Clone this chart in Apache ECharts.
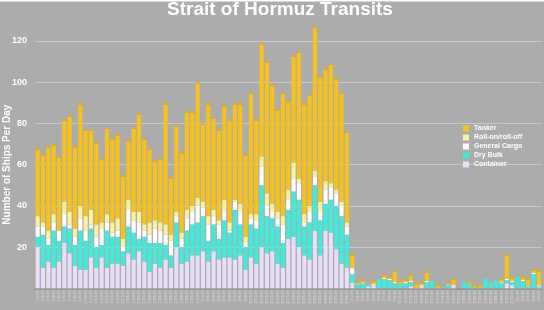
<!DOCTYPE html>
<html><head><meta charset="utf-8">
<script src="https://cdn.jsdelivr.net/npm/echarts@6/dist/echarts.min.js"></script>
<style>html,body{margin:0;padding:0;background:#acacac}#c{width:544px;height:310px}</style>
</head><body><div id="c"></div><script>
const categories = [
"1/1/26","1/2/26","1/3/26","1/4/26","1/5/26","1/6/26","1/7/26","1/8/26","1/9/26","1/10/26",
"1/11/26","1/12/26","1/13/26","1/14/26","1/15/26","1/16/26","1/17/26","1/18/26","1/19/26","1/20/26",
"1/21/26","1/22/26","1/23/26","1/24/26","1/25/26","1/26/26","1/27/26","1/28/26","1/29/26","1/30/26","1/31/26",
"2/1/26","2/2/26","2/3/26","2/4/26","2/5/26","2/6/26","2/7/26","2/8/26","2/9/26","2/10/26",
"2/11/26","2/12/26","2/13/26","2/14/26","2/15/26","2/16/26","2/17/26","2/18/26","2/19/26","2/20/26",
"2/21/26","2/22/26","2/23/26","2/24/26","2/25/26","2/26/26","2/27/26","2/28/26",
"3/1/26","3/2/26","3/3/26","3/4/26","3/5/26","3/6/26","3/7/26","3/8/26","3/9/26","3/10/26",
"3/11/26","3/12/26","3/13/26","3/14/26","3/15/26","3/16/26","3/17/26","3/18/26","3/19/26","3/20/26",
"3/21/26","3/22/26","3/23/26","3/24/26","3/25/26","3/26/26","3/27/26","3/28/26","3/29/26","3/30/26","3/31/26",
"4/1/26","4/2/26","4/3/26","4/4/26","4/5/26"];

const container = [20,10,13,10,13,22,17,11,9,9,15,10,15,10,12,12,11,17,14,18,13,8,12,10,14,10,20,12,13,16,16,18,13,18,14,15,15,14,16,9,15,12,20,17,18,12,10,24,25,20,16,14,28,16,28,27,19,12,10,2.7,
 0,0,1,1.5,0,0,0,0,0,0,1,0,1,0,0,0,0,0,1,0,0,0,0,0,0,0,0,0,2.4,1.5,0,0,0,0,0.5];
const dryBulk = [5,16,8,18,10,8,12,10,19,14,14,10,6,18,13,13,7,13,13,6,12,14,10,12,7,6,12,8,15,15,16,17,10,13,10,18,12,24,15,11,16,17,30,18,16,18,12,14,22,23,14,18,22,17,13,16,21,23,16,4.1,
 2,2.4,1,0,4.7,4.5,4,2.5,2,2.5,2,0,0,3,3.7,0,0.5,1.5,0,0,3.2,2,0.5,0,4.7,2.8,4,2.5,1.5,1.5,5.7,3.5,1,7,0.5];
const generalCargo = [5,4,3,4,5,6,2,4,6,5,2,5,8,4,2,3,2,8,6,8,3,4,7,6,5,7,3,4,6,6,8,4,8,4,7,4,1,4,6,2,3,4,9,5,3,4,9,5,6,8,2,5,4,4,7,6,6,5,4,2.9,
 0.3,0.4,0,0.5,0,0.5,0.5,0.5,0,0.5,0.5,0,0.5,0.5,0,0,0,0.3,0.5,0,0,0,0,0,0,0,0,0.4,0.7,0.5,0,0.5,0.2,0.5,0.5];
const roro = [5,2,4,4,0,6,6,4,6,7,7,6,3,4,5,6,4,5,4,5,3,6,4,4,5,3,2,3,4,3,4,3,4,3,2,6,4,1,4,3,2,3,5,6,4,3,4,5,8,2,4,3,3,5,4,2,2,2,2,0.3,
 0,0,0,0,0,0,0,0,0,0,0,0,0,0,0,0,0,0,0,0,0,0,0,0,0,0,0,0,0,0,0,0,0,0,0];
const tanker = [33,33,41,34,36,40,47,40,50,42,39,40,31,42,41,41,31,29,41,48,42,36,29,31,59,28,42,39,48,46,56,38,55,45,44,46,50,47,49,40,59,46,55,64,58,50,60,43,52,62,54,54,70,61,55,58,54,53,44,6.7,
 1.2,1.6,0,2,0,1.8,1.5,5.6,1.7,1.5,3.3,2.5,1.7,5,0,1.8,0,0.6,3.5,0,0,1.5,1.5,1.5,0,0,0,1.8,12,1.8,0,2,3.5,2,7.4];
const yTicks = [0,20,40,60,80,100,120];
const legendOrder = ['Tanker','Roll-on/roll-off','General Cargo','Dry Bulk','Container'];

const font = '"Liberation Sans", Arial, Helvetica, sans-serif';
const TANKER = '#F7C21A', TANKER_CAP = '#E8A91C';
const gridTop = 41, gridBottom = 21.7;
const pxPerUnit = (310 - gridTop - gridBottom) / (yTicks[yTicks.length-1] - yTicks[0]);
// tanker bars carry a thin darker cap at their top edge (about 1.8 px)
const tankerItems = tanker.map(v => {
  const h = v * pxPerUnit;
  if (h < 0.5) return v;
  const c = Math.min(0.6, 1.8 / h);
  return {value: v, itemStyle: {color: new echarts.graphic.LinearGradient(0,0,0,1,[
    {offset:0, color:TANKER_CAP},{offset:c, color:TANKER_CAP},{offset:c, color:TANKER},{offset:1, color:TANKER}])}};
});

const chart = echarts.init(document.getElementById('c'));
function s(name, data, color){
  return {name, type:'bar', stack:'total', data, barWidth:'76%', clip:false,
    itemStyle:{color}, emphasis:{disabled:true}};
}
chart.setOption({
  backgroundColor:'#acacac',
  animation:false,
  textStyle:{fontFamily:font},
  graphic:[{type:'rect', shape:{x:0,y:0,width:544,height:1.5}, style:{fill:'#ffffff'}, silent:true}],
  title:{text:'Strait of Hormuz Transits', left:167, top:0, padding:0,
    textStyle:{color:'#fff', fontSize:19, fontWeight:'bold', fontFamily:font}},
  legend:{orient:'vertical', left:463, top:125, padding:0, itemWidth:6, itemHeight:6, itemGap:2,
    icon:'rect', data:legendOrder, selectedMode:false,
    textStyle:{color:'#fff', fontSize:7, fontWeight:'bold', lineHeight:6.2, fontFamily:font}},
  grid:{left:35, right:2.5, top:gridTop, bottom:gridBottom, containLabel:false, outerBoundsMode:'none'},
  xAxis:{type:'category', data:categories,
    axisLine:{lineStyle:{color:'#9a9a9a', width:2}}, axisTick:{show:false},
    axisLabel:{interval:0, rotate:90, fontSize:4, color:'#dedede', margin:2, fontFamily:font}},
  yAxis:{type:'value', min:yTicks[0], max:yTicks[yTicks.length-1], interval:20,
    name:'Number of Ships Per Day', nameLocation:'middle', nameGap:23, nameMoveOverlap:false,
    nameTextStyle:{color:'#fff', fontSize:10, fontWeight:'bold', fontFamily:font},
    axisLabel:{color:'#fff', fontSize:9, fontWeight:'bold', margin:8, showMinLabel:false, fontFamily:font},
    splitLine:{lineStyle:{color:'#c8c8c8', width:1}}, axisLine:{show:false}, axisTick:{show:false}},
  series:[
    s('Container', container, '#E7DFF6'),
    s('Dry Bulk', dryBulk, '#3FEBDB'),
    s('General Cargo', generalCargo, '#FFFFFF'),
    s('Roll-on/roll-off', roro, '#FBF39C'),
    s('Tanker', tankerItems, TANKER)
  ]
});
</script></body></html>
